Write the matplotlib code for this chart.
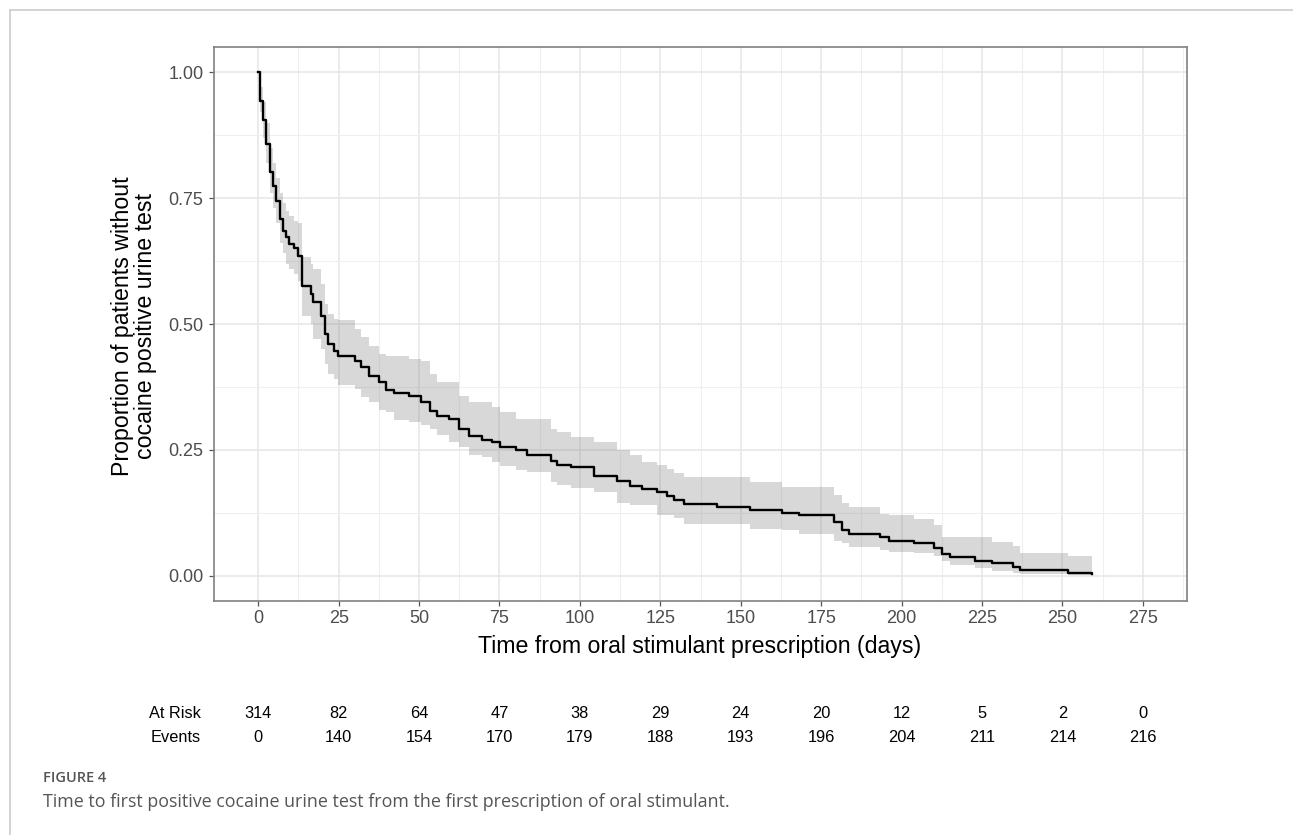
import matplotlib
matplotlib.use("Agg")
import matplotlib.pyplot as plt
import matplotlib.transforms as mtransforms
from matplotlib.lines import Line2D
import numpy as np

# ---- data ----
times = [0, 0.4, 1.5, 2.3, 3.8, 4.7, 5.6, 6.7, 7.7, 8.7, 9.7, 11.1, 12.5, 13.7,
         16.3, 17.0, 19.4, 20.7, 21.8, 23.5, 24.9, 30.2, 31.8, 34.4, 37.5, 39.6,
         42.2, 46.8, 50.5, 53.5, 55.6, 59.3, 62.4, 65.5, 69.6, 72.7, 75.3, 80.0,
         83.6, 90.9, 92.9, 97.1, 104.5, 111.6, 115.7, 119.3, 124.0, 127.1, 129.2,
         132.3, 142.6, 153.0, 162.8, 168.0, 178.9, 181.5, 183.6, 193.4, 196.0,
         203.8, 210.0, 212.6, 215.2, 222.9, 228.1, 234.8, 236.9, 251.9, 259.2]
surv = [1.000, 0.943, 0.905, 0.857, 0.801, 0.774, 0.745, 0.708, 0.685, 0.672,
        0.659, 0.650, 0.636, 0.576, 0.560, 0.543, 0.516, 0.480, 0.460, 0.447,
        0.436, 0.427, 0.414, 0.397, 0.384, 0.368, 0.363, 0.358, 0.345, 0.328,
        0.318, 0.312, 0.292, 0.278, 0.270, 0.265, 0.255, 0.249, 0.239, 0.228,
        0.220, 0.216, 0.199, 0.189, 0.179, 0.173, 0.166, 0.159, 0.151, 0.143,
        0.136, 0.130, 0.124, 0.120, 0.106, 0.090, 0.083, 0.077, 0.070, 0.065,
        0.055, 0.044, 0.037, 0.030, 0.025, 0.018, 0.0125, 0.006, 0.004]
upper = [1.000, 0.970, 0.940, 0.900, 0.850, 0.820, 0.790, 0.760, 0.740, 0.725,
         0.715, 0.705, 0.700, 0.633, 0.620, 0.609, 0.580, 0.540, 0.520, 0.510,
         0.507, 0.490, 0.475, 0.457, 0.440, 0.437, 0.437, 0.430, 0.427, 0.400,
         0.385, 0.385, 0.358, 0.345, 0.345, 0.335, 0.325, 0.312, 0.312, 0.292,
         0.285, 0.275, 0.265, 0.249, 0.240, 0.226, 0.220, 0.212, 0.205, 0.196,
         0.196, 0.186, 0.176, 0.176, 0.160, 0.145, 0.136, 0.123, 0.120, 0.113,
         0.100, 0.077, 0.077, 0.077, 0.068, 0.060, 0.046, 0.040, 0.040]
lower = [1.000, 0.920, 0.870, 0.820, 0.760, 0.730, 0.700, 0.660, 0.640, 0.620,
         0.610, 0.600, 0.585, 0.516, 0.500, 0.470, 0.450, 0.420, 0.400, 0.390,
         0.378, 0.370, 0.355, 0.345, 0.330, 0.325, 0.310, 0.305, 0.300, 0.292,
         0.280, 0.265, 0.255, 0.240, 0.236, 0.226, 0.219, 0.210, 0.206, 0.186,
         0.180, 0.175, 0.167, 0.145, 0.140, 0.140, 0.120, 0.120, 0.115, 0.103,
         0.103, 0.093, 0.090, 0.083, 0.070, 0.065, 0.057, 0.052, 0.047, 0.045,
         0.040, 0.030, 0.022, 0.016, 0.010, 0.006, 0.003, 0.001, 0.001]

risk_times = [0, 25, 50, 75, 100, 125, 150, 175, 200, 225, 250, 275]
at_risk = [314, 82, 64, 47, 38, 29, 24, 20, 12, 5, 2, 0]
events = [0, 140, 154, 170, 179, 188, 193, 196, 204, 211, 214, 216]

xticks = list(range(0, 276, 25))
yticks = [0.00, 0.25, 0.50, 0.75, 1.00]
ytick_labels = ["0.00", "0.25", "0.50", "0.75", "1.00"]

xlabel = "Time from oral stimulant prescription (days)"
ylabel = "Proportion of patients without\ncocaine positive urine test"
caption_head = "FIGURE 4"
caption = "Time to first positive cocaine urine test from the first prescription of oral stimulant."

# ---- figure ----
plt.rcParams['font.family'] = ['Liberation Sans', 'DejaVu Sans']
W, H = 1293, 835
fig = plt.figure(figsize=(W / 100, H / 100), dpi=100)
ax = fig.add_axes([214 / W, 1 - 601 / H, (1187 - 214) / W, (601 - 47) / H])

ax.fill_between(times, lower, upper, step='post', color='grey', alpha=0.3,
                linewidth=0, zorder=2)
ax.step(times, surv, where='post', color='black', linewidth=1.7, zorder=3)

ax.set_xlim(-13.75, 288.75)
ax.set_ylim(-0.05, 1.05)
ax.set_xticks(xticks)
ax.set_xticks(np.arange(12.5, 288, 25), minor=True)
ax.set_yticks(yticks)
ax.set_yticklabels(ytick_labels)
ax.set_yticks(np.arange(0.125, 1.05, 0.25), minor=True)
ax.grid(True, which='major', color='#e6e6e6', linewidth=1.1, zorder=0)
ax.grid(True, which='minor', color='#efefef', linewidth=0.8, zorder=0)
ax.set_axisbelow(True)
ax.tick_params(axis='both', which='major', length=3.6, width=0.9, color='#555555',
               labelsize=13, labelcolor='#4d4d4d')
ax.tick_params(axis='x', which='major', pad=3)
ax.tick_params(axis='y', which='major', pad=4)
ax.tick_params(axis='both', which='minor', length=0)
for sp in ax.spines.values():
    sp.set_color('#808080')
    sp.set_linewidth(1.2)

fig.text(700 / W, 1 - 646 / H, xlabel, ha='center', va='center', fontsize=16.7)
fig.text(134 / W, 1 - 326 / H, ylabel, ha='center', va='center', fontsize=16.7,
         rotation=90, linespacing=1.0, multialignment='center')

# risk table
trans = mtransforms.blended_transform_factory(ax.transData, fig.transFigure)
y_risk = 1 - 714 / H
y_ev = 1 - 738 / H
fig.text(201 / W, y_risk, "At Risk", ha='right', va='center', fontsize=11.8)
fig.text(201 / W, y_ev, "Events", ha='right', va='center', fontsize=11.8)
for t, r, e in zip(risk_times, at_risk, events):
    ax.text(t, y_risk, str(r), transform=trans, ha='center', va='center',
            fontsize=11.8, clip_on=False)
    ax.text(t, y_ev, str(e), transform=trans, ha='center', va='center',
            fontsize=11.8, clip_on=False)

# caption
fig.text(43 / W, 1 - 778 / H, caption_head, ha='left', va='center', fontsize=10.5,
         color='#555555', weight='semibold', family=['Open Sans', 'DejaVu Sans'])
fig.text(43 / W, 1 - 802 / H, caption, ha='left', va='center', fontsize=12.9,
         color='#555555', family=['Open Sans', 'DejaVu Sans'])

# outer frame
fig.add_artist(Line2D([9.5 / W, 1], [1 - 10 / H, 1 - 10 / H], transform=fig.transFigure,
                      color='#cccccc', linewidth=1.2))
fig.add_artist(Line2D([9.5 / W, 9.5 / W], [0, 1 - 10 / H], transform=fig.transFigure,
                      color='#cccccc', linewidth=1.2))

fig.savefig("out.png", dpi=100)
